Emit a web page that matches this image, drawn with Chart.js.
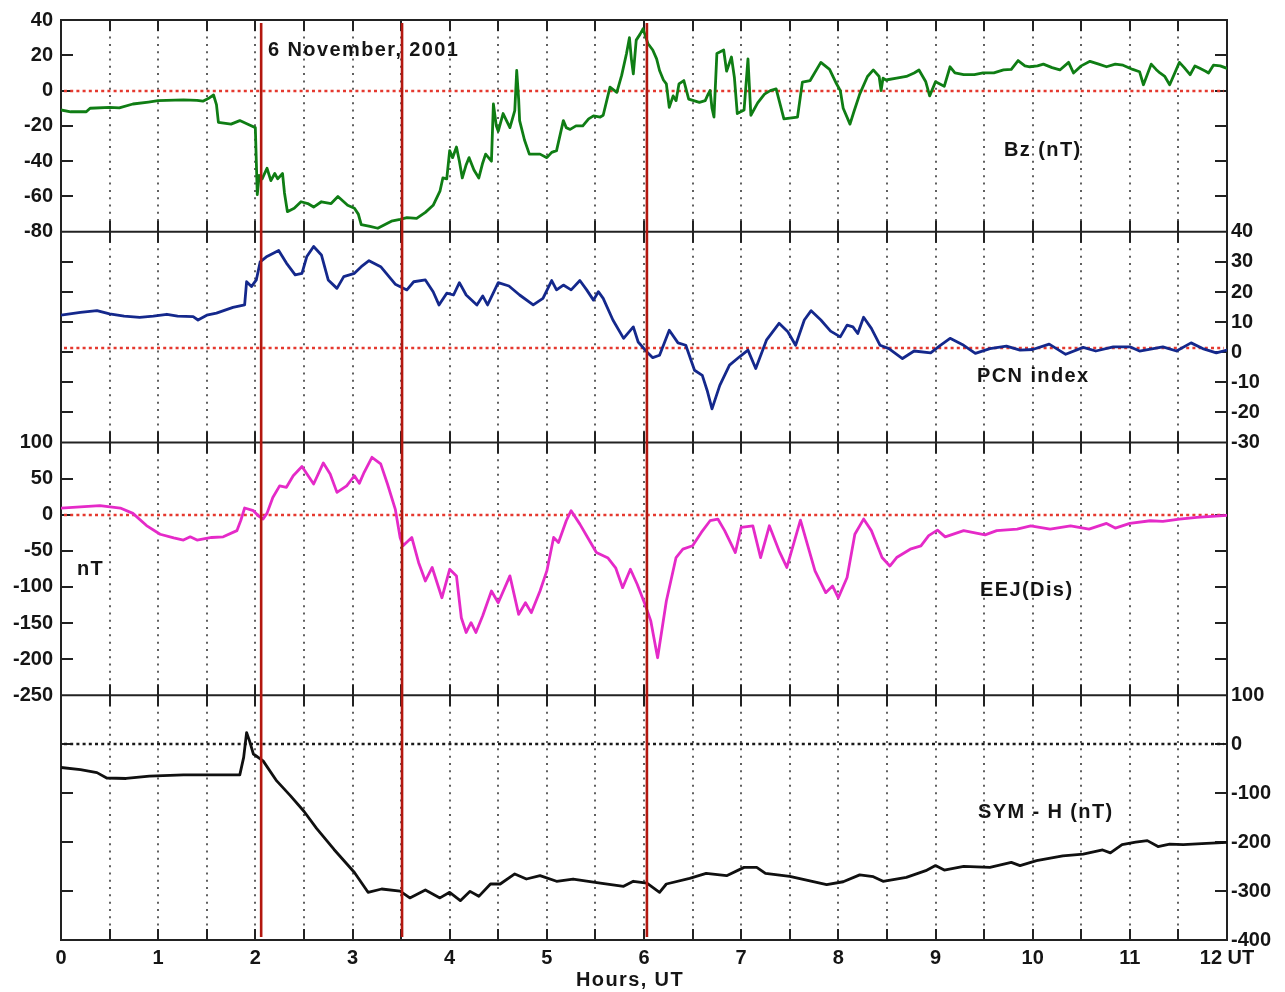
<!DOCTYPE html>
<html>
<head>
<meta charset="utf-8">
<title>6 November 2001 storm: Bz, PCN, EEJ, SYM-H</title>
<script src="https://cdn.jsdelivr.net/npm/chart.js@4.4.1/dist/chart.umd.min.js"></script>
<style>
  html, body { margin: 0; padding: 0; background: #ffffff; }
  #wrap { position: relative; width: 1285px; height: 992px; }
  canvas { display: block; }
</style>
</head>
<body>
<div id="wrap"><canvas id="storm" width="1285" height="992"></canvas></div>
<script>
// ---- time axis ----
const xTickLabels = ['0', '1', '2', '3', '4', '5', '6', '7', '8', '9', '10', '11', '12 UT'];
const eventHours = [2.06, 3.51, 6.03];

// ---- IMF Bz (nT) ----
const bzTime = [0, 0.10, 0.26, 0.30, 0.50, 0.60, 0.74, 0.90, 1.00, 1.26, 1.40, 1.46, 1.53, 1.57, 1.60, 1.62, 1.75, 1.84, 1.94, 2.00,
  2.01, 2.02, 2.04, 2.07, 2.12, 2.16, 2.20, 2.23, 2.28, 2.30, 2.33, 2.40, 2.47, 2.54, 2.60, 2.68, 2.78, 2.85, 2.95, 3.02,
  3.06, 3.09, 3.18, 3.26, 3.33, 3.40, 3.49, 3.56, 3.66, 3.75, 3.83, 3.90, 3.93, 3.97, 4.00, 4.03, 4.07, 4.10, 4.13, 4.17,
  4.20, 4.25, 4.30, 4.34, 4.37, 4.43, 4.45, 4.48, 4.50, 4.55, 4.62, 4.67, 4.69, 4.71, 4.72, 4.77, 4.82, 4.93, 5.00, 5.05,
  5.10, 5.17, 5.20, 5.24, 5.30, 5.37, 5.43, 5.48, 5.55, 5.58, 5.65, 5.72, 5.77, 5.82, 5.85, 5.87, 5.89, 5.92, 5.96, 5.99,
  6.02, 6.04, 6.09, 6.13, 6.16, 6.20, 6.23, 6.26, 6.30, 6.33, 6.36, 6.41, 6.46, 6.57, 6.63, 6.66, 6.68, 6.70, 6.72, 6.75,
  6.82, 6.85, 6.90, 6.93, 6.96, 7.03, 7.07, 7.10, 7.17, 7.24, 7.30, 7.36, 7.44, 7.58, 7.63, 7.71, 7.82, 7.91, 7.98, 8.02,
  8.05, 8.12, 8.16, 8.22, 8.30, 8.36, 8.42, 8.44, 8.46, 8.49, 8.60, 8.70, 8.78, 8.83, 8.90, 8.94, 9.00, 9.09, 9.15, 9.20,
  9.29, 9.40, 9.49, 9.60, 9.70, 9.78, 9.85, 9.92, 9.97, 10.05, 10.11, 10.20, 10.28, 10.37, 10.42, 10.50, 10.59, 10.68, 10.76, 10.85,
  10.93, 11.03, 11.10, 11.14, 11.22, 11.27, 11.31, 11.36, 11.41, 11.51, 11.56, 11.62, 11.67, 11.72, 11.78, 11.81, 11.86, 11.93, 12.00];
const bzNT = [-11, -12, -12, -10, -9.5, -9.8, -7.6, -6.5, -5.7, -5.3, -5.5, -6, -4, -2.5, -8, -18, -19, -17, -19.5, -21,
  -40, -59, -48, -50, -44, -51, -47, -50, -47, -58, -68.6, -66.7, -63, -64, -66, -63, -64, -60, -65, -66.7,
  -70, -76, -77, -78, -76, -74, -73, -72, -72.4, -69, -65, -57, -49.5, -50, -34, -38, -32, -40, -49.5, -42,
  -38, -45, -49.5, -41, -36, -40, -7.6, -20, -23, -13, -21, -11.4, 11.4, -5, -17, -28, -36, -36, -38, -35,
  -34, -17, -21, -22, -20, -20, -16, -14.3, -15, -14, 2, -1, 8.6, 21, 30, 18, 9.5, 28.6, 32, 35,
  30, 26.7, 23, 18, 11.4, 6, 3.8, -9.5, -3, -5.7, 3.8, 5.7, -4.8, -6.7, -5.7, -2, 0, -10, -15, 21,
  23, 11, 19, 7.6, -13, -11, 18, -14, -7, -2, 0, 1, -16, -15, 4.8, 5.7, 16, 12, 4, 0,
  -10, -19, -12, -2, 8, 11.7, 8, 0, 7, 6, 7, 8, 10, 11.7, 5, -3, 5, 2.4, 13.5, 10,
  9, 9, 10, 10, 11.7, 12, 17, 14, 13.5, 14, 15, 13, 11.7, 16, 10, 14, 16.6, 15, 13.5, 15,
  14.4, 12, 10.7, 3.3, 15, 12, 10, 8, 3.3, 16, 13, 9, 14, 12.6, 11, 10, 14.4, 14, 12.6];

// ---- PCN index ----
const pcnTime = [0, 0.20, 0.37, 0.50, 0.65, 0.81, 0.95, 1.09, 1.20, 1.36, 1.41, 1.50, 1.60, 1.77, 1.89, 1.91, 1.96, 2.01, 2.05, 2.12,
  2.24, 2.32, 2.41, 2.48, 2.53, 2.60, 2.68, 2.75, 2.84, 2.91, 3.02, 3.09, 3.17, 3.29, 3.44, 3.56, 3.63, 3.75, 3.83, 3.89,
  3.97, 4.04, 4.10, 4.17, 4.28, 4.34, 4.39, 4.50, 4.61, 4.72, 4.86, 4.96, 5.05, 5.10, 5.17, 5.25, 5.34, 5.41, 5.48, 5.53,
  5.58, 5.68, 5.79, 5.89, 5.94, 6.03, 6.09, 6.16, 6.26, 6.35, 6.43, 6.52, 6.60, 6.65, 6.70, 6.78, 6.88, 6.98, 7.07, 7.15,
  7.26, 7.39, 7.48, 7.56, 7.65, 7.72, 7.82, 7.92, 8.02, 8.09, 8.15, 8.20, 8.26, 8.34, 8.43, 8.52, 8.66, 8.78, 8.95, 9.05,
  9.15, 9.29, 9.41, 9.56, 9.73, 9.87, 10.00, 10.17, 10.34, 10.52, 10.65, 10.83, 11.00, 11.10, 11.34, 11.48, 11.63, 11.75, 11.89, 12.00];
const pcnIndex = [12.3, 13.2, 13.8, 12.7, 12, 11.6, 12, 12.6, 12, 11.8, 10.7, 12.3, 13, 14.9, 15.7, 23.4, 21.8, 24, 30, 31.8,
  33.8, 29.6, 25.7, 26.2, 31.8, 35.1, 32.3, 24, 21.2, 25.1, 26.2, 28.4, 30.4, 28.4, 22.6, 20.7, 23.4, 24, 20.1, 15.7,
  19.6, 19, 23.1, 19, 15.7, 18.7, 15.7, 23.1, 22, 19, 15.7, 17.9, 23.8, 20.7, 22.3, 20.7, 23.8, 20.7, 17.3, 20.1,
  17.9, 10.7, 4.6, 8.4, 3.4, 0.1, -1.8, -1, 7.3, 3.1, 2.3, -6, -7.7, -12.7, -18.8, -11, -4.3, -1.6, 0.7, -5.4,
  4, 9.6, 6.8, 2.3, 10.7, 13.8, 10.7, 7, 5.1, 9, 8.4, 6.2, 11.6, 7.9, 2.3, 1.2, -2.1, 0.4, -0.2, 2.3,
  4.6, 2.3, -0.4, 1.2, 2, 0.7, 0.9, 2.7, -0.7, 1.6, 0.4, 1.8, 1.8, 0.4, 1.8, 0.4, 3.1, 1.2, -0.2, 0.7];

// ---- EEJ disturbance (nT) ----
const eejTime = [0, 0.20, 0.40, 0.61, 0.74, 0.88, 1.02, 1.16, 1.26, 1.33, 1.40, 1.55, 1.67, 1.81, 1.85, 1.89, 1.98, 2.03, 2.08, 2.12,
  2.18, 2.25, 2.32, 2.39, 2.48, 2.60, 2.70, 2.77, 2.84, 2.94, 3.02, 3.07, 3.12, 3.20, 3.29, 3.36, 3.44, 3.49, 3.52, 3.61,
  3.68, 3.75, 3.82, 3.92, 4.00, 4.07, 4.12, 4.17, 4.22, 4.27, 4.34, 4.43, 4.50, 4.62, 4.71, 4.78, 4.84, 4.93, 5.00, 5.07,
  5.12, 5.20, 5.25, 5.34, 5.42, 5.51, 5.63, 5.71, 5.78, 5.86, 5.93, 6.01, 6.07, 6.14, 6.23, 6.33, 6.40, 6.50, 6.59, 6.68,
  6.76, 6.83, 6.94, 7.00, 7.12, 7.20, 7.29, 7.39, 7.47, 7.61, 7.76, 7.87, 7.94, 8.00, 8.09, 8.17, 8.26, 8.34, 8.45, 8.53,
  8.60, 8.74, 8.85, 8.93, 9.02, 9.10, 9.29, 9.51, 9.63, 9.84, 9.98, 10.18, 10.39, 10.58, 10.76, 10.85, 11.00, 11.21, 11.34, 11.51,
  11.69, 12.00];
const eejNT = [9.3, 11, 12.5, 9.3, 1.9, -15, -27, -32, -35, -30.6, -35, -31.5, -30.6, -22, -8, 9.3, 5.6, -1.4, -6, 1.9,
  24, 40, 38, 54, 66.7, 42.6, 71.8, 56.5, 31, 40, 54, 43.5, 58.8, 79.6, 70.4, 42.6, 7.9, -31.5, -43, -31.5,
  -66, -91.7, -73, -115, -75.5, -84.7, -142.6, -163, -149.5, -163, -140, -105.6, -121.8, -84.7, -138, -121.8, -135.6, -105.6, -77.8, -31.5,
  -38.4, -8.3, 5.6, -13, -31.5, -52.3, -60, -74, -101, -75.5, -96.3, -124, -147, -198, -119.5, -59.3, -47.7, -43, -24.5, -8.3,
  -6, -22, -52.3, -17.6, -15.3, -59.3, -15.3, -50, -73, -7.4, -77.8, -107.9, -98.6, -115, -87, -27, -6, -22, -59.3, -71,
  -59.3, -47.7, -43, -29, -21.3, -30.6, -22, -27.8, -22, -19.9, -15.3, -19.9, -15.3, -19.9, -12, -18.5, -12, -8.3, -9.3, -6,
  -3.7, -1];

// ---- SYM-H (nT) ----
const symTime = [0, 0.20, 0.37, 0.47, 0.67, 0.91, 1.26, 1.60, 1.84, 1.88, 1.91, 1.94, 1.98, 2.08, 2.22, 2.36, 2.50, 2.63, 2.81, 3.02,
  3.16, 3.30, 3.49, 3.59, 3.75, 3.90, 4.00, 4.11, 4.21, 4.30, 4.42, 4.52, 4.67, 4.79, 4.93, 5.10, 5.27, 5.55, 5.79, 5.89,
  6.03, 6.16, 6.23, 6.47, 6.64, 6.85, 7.03, 7.16, 7.25, 7.50, 7.88, 8.05, 8.22, 8.36, 8.46, 8.70, 8.90, 9.00, 9.09, 9.29,
  9.56, 9.78, 9.87, 10.04, 10.31, 10.52, 10.72, 10.80, 10.92, 11.06, 11.18, 11.29, 11.41, 11.55, 11.79, 12.00];
const symNT = [-47.6, -52, -58, -69, -70, -65, -62.6, -62.6, -62.6, -27, 23.8, 6.8, -20, -34, -75, -105, -137, -172, -215, -262,
  -302.6, -295.8, -300, -314, -297.8, -314, -302.6, -319.6, -300.6, -310.8, -285.6, -285.6, -265, -275.4, -268.6, -280, -275.4, -283.6, -290.4, -280,
  -284, -302.6, -285.6, -274, -263.8, -268.6, -251.6, -251.6, -263.8, -270, -287, -281, -267, -270.6, -280, -272, -258.4, -248, -257, -249.6,
  -251.6, -241.4, -248, -238, -228, -224.4, -216, -222, -205, -200, -197, -209, -204, -205, -202.6, -200.6];

const pairs = (t, v) => t.map((h, i) => ({ x: h, y: v[i] }));

const FONT = "'Liberation Sans', Arial, Helvetica, sans-serif";
const INK = '#151515';

// One entry per stacked panel: the labelled axis, its reference level and the caption.
const panels = [
  { axis: 'yBz',  ref: 0,   refColor: '#e5392f', caption: 'Bz (nT)',      cx: 1004, cy: 150 },
  { axis: 'yPcn', ref: 1.5, refColor: '#e5392f', caption: 'PCN index',    cx: 977,  cy: 376 },
  { axis: 'yEej', ref: 0,   refColor: '#e5392f', caption: 'EEJ(Dis)',     cx: 980,  cy: 590 },
  { axis: 'ySym', ref: 0,   refColor: '#1a1a1a', caption: 'SYM - H (nT)', cx: 978,  cy: 812 }
];
const freeTexts = [
  { text: '6 November, 2001', x: 268, y: 50, align: 'left' },
  { text: 'nT', x: 77, y: 569, align: 'left' },
  { text: 'Hours, UT', x: 630, y: 980, align: 'center' }
];

function seg(ctx, x1, y1, x2, y2) {
  ctx.beginPath(); ctx.moveTo(x1, y1); ctx.lineTo(x2, y2); ctx.stroke();
}

const panelDecor = {
  id: 'panelDecor',
  beforeDatasetsDraw(chart) {
    const { ctx, chartArea: ca, scales } = chart;
    const xs = scales.x;
    ctx.save();
    panels.forEach((p, idx) => {
      const ys = scales[p.axis];
      const top = ys.top, bottom = ys.bottom;
      const inner = xs.ticks.filter(t => t.value > xs.min && t.value < xs.max);
      // dotted half-hour grid
      ctx.strokeStyle = '#3a3a3a';
      ctx.lineWidth = 1.6;
      ctx.setLineDash([2, 5.3]);
      inner.forEach(t => {
        const px = Math.round(xs.getPixelForValue(t.value));
        seg(ctx, px, top + 2, px, bottom - 2);
      });
      // solid tick marks on the panel edges
      ctx.setLineDash([]);
      ctx.strokeStyle = '#222';
      ctx.lineWidth = 2;
      inner.forEach(t => {
        const px = Math.round(xs.getPixelForValue(t.value));
        seg(ctx, px, top, px, top + 11);
        seg(ctx, px, bottom - 11, px, bottom);
      });
      ys.ticks.forEach(t => {
        if (t.value <= ys.min || t.value >= ys.max) return;
        const py = Math.round(ys.getPixelForValue(t.value));
        seg(ctx, ca.left, py, ca.left + 12, py);
        seg(ctx, ca.right - 12, py, ca.right, py);
      });
      // dotted reference level
      ctx.strokeStyle = p.refColor;
      ctx.lineWidth = 2.4;
      ctx.setLineDash([3, 3.2]);
      const ry = Math.round(ys.getPixelForValue(p.ref));
      seg(ctx, ca.left + 3, ry, ca.right - 3, ry);
      ctx.setLineDash([]);
      // panel separator
      if (idx < panels.length - 1) {
        ctx.strokeStyle = '#222';
        ctx.lineWidth = 2;
        seg(ctx, ca.left, bottom, ca.right, bottom);
      }
    });
    ctx.strokeStyle = '#222';
    ctx.lineWidth = 2;
    ctx.strokeRect(ca.left, ca.top, ca.right - ca.left, ca.bottom - ca.top);
    ctx.restore();
  },
  afterDatasetsDraw(chart) {
    const { ctx, chartArea: ca, scales } = chart;
    const xs = scales.x;
    ctx.save();
    // storm phase markers
    ctx.strokeStyle = '#b3170f';
    ctx.lineWidth = 2.6;
    eventHours.forEach(h => {
      const px = xs.getPixelForValue(h);
      seg(ctx, px, ca.top + 3, px, ca.bottom - 3);
    });
    // captions
    ctx.fillStyle = INK;
    ctx.font = 'bold 20px ' + FONT;
    ctx.textBaseline = 'middle';
    if ('letterSpacing' in ctx) ctx.letterSpacing = '1.4px';
    ctx.textAlign = 'left';
    panels.forEach(p => ctx.fillText(p.caption, p.cx, p.cy));
    freeTexts.forEach(t => {
      ctx.textAlign = t.align;
      ctx.fillText(t.text, t.x, t.y);
    });
    ctx.restore();
  }
};

const tickFont = { family: FONT, size: 20, weight: 'bold' };
const fixWidth = w => (s => { s.width = w; });

function panelAxis(position, weight, stackWeight, min, max, step, showLabels) {
  return {
    type: 'linear',
    position: position,
    stack: 'panels',
    stackWeight: stackWeight,
    weight: weight,
    min: min,
    max: max,
    afterFit: fixWidth(position === 'left' ? 61 : 58),
    grid: { display: false, drawTicks: false },
    border: { display: false },
    ticks: {
      display: showLabels,
      stepSize: step,
      autoSkip: false,
      padding: position === 'left' ? 8 : 4,
      font: tickFont,
      color: INK
    }
  };
}

new Chart(document.getElementById('storm'), {
  type: 'line',
  data: {
    datasets: [
      { label: 'Bz (nT)', data: pairs(bzTime, bzNT), yAxisID: 'yBz', borderColor: '#0f7d14', borderWidth: 2.8 },
      { label: 'PCN index', data: pairs(pcnTime, pcnIndex), yAxisID: 'yPcn', borderColor: '#14288c', borderWidth: 2.8 },
      { label: 'EEJ(Dis)', data: pairs(eejTime, eejNT), yAxisID: 'yEej', borderColor: '#e52ac8', borderWidth: 2.8 },
      { label: 'SYM - H (nT)', data: pairs(symTime, symNT), yAxisID: 'ySym', borderColor: '#101010', borderWidth: 2.8 }
    ]
  },
  options: {
    responsive: false,
    devicePixelRatio: 1,
    animation: false,
    events: [],
    layout: { padding: { top: 19, left: 0, right: 0, bottom: 0 } },
    elements: { point: { radius: 0 }, line: { tension: 0, borderJoinStyle: 'round', borderCapStyle: 'round' } },
    plugins: { legend: { display: false }, tooltip: { enabled: false } },
    scales: {
      x: {
        type: 'linear',
        position: 'bottom',
        min: 0,
        max: 12,
        afterFit: s => { s.height = 52; },
        grid: { display: false, drawTicks: false },
        border: { display: false },
        ticks: {
          stepSize: 0.5,
          autoSkip: false,
          maxRotation: 0,
          padding: 6,
          font: tickFont,
          color: INK,
          callback: v => (Number.isInteger(v) ? xTickLabels[v] : '')
        }
      },
      // left column, top to bottom (higher weight sits higher)
      yBz:   panelAxis('left', 4, 212, -80, 40, 20, true),
      yPcnL: panelAxis('left', 3, 211, -30, 40, 10, false),
      yEej:  panelAxis('left', 2, 253, -250, 100, 50, true),
      ySymL: panelAxis('left', 1, 245, -400, 100, 100, false),
      // right column, top to bottom (lower weight sits higher)
      yBzR:  panelAxis('right', 1, 212, -80, 40, 20, false),
      yPcn:  panelAxis('right', 2, 211, -30, 40, 10, true),
      yEejR: panelAxis('right', 3, 253, -250, 100, 50, false),
      ySym:  panelAxis('right', 4, 245, -400, 100, 100, true)
    }
  },
  plugins: [panelDecor]
});
</script>
</body>
</html>
